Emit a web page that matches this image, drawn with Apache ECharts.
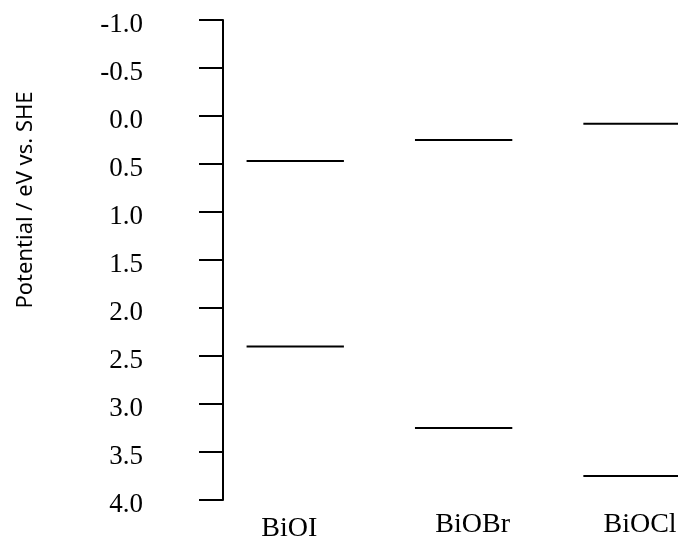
<!DOCTYPE html>
<html>
<head>
<meta charset="utf-8">
<script src="https://cdn.jsdelivr.net/npm/echarts@6/dist/echarts.min.js"></script>
<style>html,body{margin:0;padding:0;background:#fff;}#c{width:678px;height:540px;}</style>
</head>
<body>
<div id="c"></div>
<script>
const categories = ['BiOI', 'BiOBr', 'BiOCl'];
const cbValues = [0.47, 0.25, 0.08];
const vbValues = [2.40, 3.25, 3.75];
const yTicks = [-1.0, -0.5, 0.0, 0.5, 1.0, 1.5, 2.0, 2.5, 3.0, 3.5, 4.0];
const yName = 'Potential / eV vs. SHE';

const chart = echarts.init(document.getElementById('c'), null, {renderer: 'canvas'});
const levelData = [];
categories.forEach((c, i) => {
  levelData.push([i + 1, cbValues[i]]);
  levelData.push([i + 1, vbValues[i]]);
});
const labelFont = {fontFamily: 'Liberation Serif', fontSize: 28, color: '#000'};
const option = {
  backgroundColor: '#fff',
  animation: false,
  grid: {left: 223, right: 0, top: 20, bottom: 40, containLabel: false, outerBoundsMode: 'none'},
  xAxis: {
    type: 'value', min: 0.571, max: 3.273,
    axisLine: {show: false}, axisTick: {show: false}, splitLine: {show: false},
    axisLabel: {
      customValues: [1, 2, 3],
      formatter: v => {
        const i = Math.round(v) - 1;
        return '{s' + i + '|' + (categories[i] || '') + '}';
      },
      margin: 11,
      rich: {
        s0: Object.assign({padding: [4, 12, 0, 0]}, labelFont),
        s1: Object.assign({padding: [0, 0, 0, 18]}, labelFont),
        s2: Object.assign({padding: [0, 0, 0, 16]}, labelFont)
      }
    }
  },
  yAxis: {
    type: 'value', inverse: true, min: yTicks[0], max: yTicks[yTicks.length - 1], interval: 0.5,
    axisLine: {show: true, lineStyle: {color: '#000', width: 2}},
    axisTick: {show: true, length: 24, lineStyle: {color: '#000', width: 2}},
    splitLine: {show: false},
    axisLabel: {
      formatter: v => '{t|' + v.toFixed(1) + '}',
      margin: 80, align: 'right',
      rich: {t: {fontFamily: 'Liberation Serif', fontSize: 27, color: '#000', padding: [10, 0, 0, 0]}}
    }
  },
  graphic: [{
    type: 'text', x: 26, y: 200, rotation: Math.PI / 2,
    style: {text: yName, fontFamily: 'Noto Sans', fontSize: 22, fill: '#000',
      align: 'center', verticalAlign: 'middle'}
  }],
  series: [{
    type: 'custom',
    data: levelData,
    clip: false,
    renderItem: function (params, api) {
      const x = api.value(0), y = api.value(1);
      const p1 = api.coord([x - 0.289, y]);
      const p2 = api.coord([x + 0.289, y]);
      return {type: 'line', shape: {x1: p1[0], y1: p1[1], x2: p2[0], y2: p2[1]},
        style: {stroke: '#000', lineWidth: 2}};
    }
  }]
};
chart.setOption(option);
</script>
</body>
</html>
